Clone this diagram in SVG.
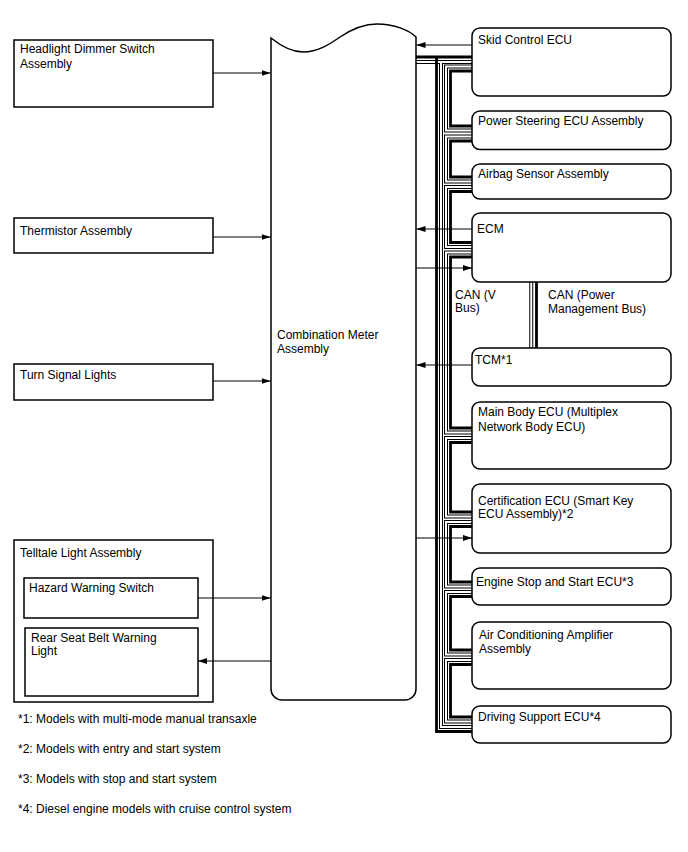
<svg xmlns="http://www.w3.org/2000/svg" width="688" height="852" viewBox="0 0 688 852">
<style>
.box{fill:#fff;stroke:#000;stroke-width:1.5}
.frame{fill:none;stroke:#000;stroke-width:1.5}
.t{font-family:"Liberation Sans",Arial,sans-serif;font-size:12px;fill:#000}
.arr{stroke:#000;stroke-width:1;fill:none;marker-end:url(#ah)}
.thick{stroke:#000;stroke-width:2.8;fill:none}
.hb{stroke:#000;stroke-width:4;fill:none}
.hw{stroke:#fff;stroke-width:2;fill:none}
</style>
<defs>
<marker id="ah" markerUnits="userSpaceOnUse" markerWidth="9" markerHeight="6" refX="9" refY="3" orient="auto">
<path d="M0,0 L9,3 L0,6 z" fill="#000"/>
</marker>
</defs>
<rect width="688" height="852" fill="#fff"/>

<g id="telltale">
<rect class="frame" x="14" y="540" width="199" height="162"/>
<text class="t" x="20" y="557">Telltale Light Assembly</text>
</g>

<g id="connectors">
<g class="hb">
<path d="M416,62 H472 M441,62 V727 H472"/>
<path d="M472,66.5 H446 V130.5 H472"/>
<path d="M472,136.5 H446 V181.5 H472"/>
<path d="M472,187 H446 V247 H472"/>
<path d="M472,252.5 H446 V432.5 H472"/>
<path d="M472,438 H446 V516.5 H472"/>
<path d="M472,522 H446 V586.5 H472"/>
<path d="M472,592 H446 V654.5 H472"/>
<path d="M472,660 H446 V721.5 H472"/>
<path d="M531.25,282 V348"/>
</g>
<g class="hw">
<path d="M416,62 H472 M441,62 V727 H472"/>
<path d="M472,66.5 H446 V130.5 H472"/>
<path d="M472,136.5 H446 V181.5 H472"/>
<path d="M472,187 H446 V247 H472"/>
<path d="M472,252.5 H446 V432.5 H472"/>
<path d="M472,438 H446 V516.5 H472"/>
<path d="M472,522 H446 V586.5 H472"/>
<path d="M472,592 H446 V654.5 H472"/>
<path d="M472,660 H446 V721.5 H472"/>
<path d="M531.25,282 V348"/>
</g>
<g class="thick">
<path d="M416,57 H472 M436.5,57 V731.5 H472"/>
<path d="M472,71 H450.5 V126 H472"/>
<path d="M472,141 H450.5 V177 H472"/>
<path d="M472,191.5 H450.5 V242.5 H472"/>
<path d="M472,257 H450.5 V428 H472"/>
<path d="M472,442.5 H450.5 V512 H472"/>
<path d="M472,526.5 H450.5 V582 H472"/>
<path d="M472,596.5 H450.5 V650 H472"/>
<path d="M472,664.5 H450.5 V717 H472"/>
<path d="M536.5,282 V348"/>
</g>
<line class="arr" x1="213" y1="73" x2="270.5" y2="73"/>
<line class="arr" x1="213" y1="237" x2="270.5" y2="237"/>
<line class="arr" x1="213" y1="381" x2="270.5" y2="381"/>
<line class="arr" x1="198" y1="598" x2="270.5" y2="598"/>
<line class="arr" x1="271" y1="661" x2="198" y2="661"/>
<line class="arr" x1="472" y1="45" x2="416.5" y2="45"/>
<line class="arr" x1="472" y1="229" x2="416.5" y2="229"/>
<line class="arr" x1="416" y1="268" x2="472" y2="268"/>
<line class="arr" x1="472" y1="365" x2="416.5" y2="365"/>
<line class="arr" x1="416" y1="538" x2="472" y2="538"/>
</g>

<g id="meter">
<path class="box" d="M271,38 C281,46 292,52 303,52 C318,52 330,44 340,37 C352,29 364,24 377,24 C394,24 409,30 416,37 V689 A11,11 0 0 1 405,700 H282 A11,11 0 0 1 271,689 Z"/>
<text class="t" x="277" y="339">Combination Meter</text>
<text class="t" x="277" y="353">Assembly</text>
</g>

<g id="headlight">
<rect class="box" x="14" y="40" width="199" height="67"/>
<text class="t" x="20" y="52.5">Headlight Dimmer Switch</text>
<text class="t" x="20" y="67.5">Assembly</text>
</g>
<g id="thermistor">
<rect class="box" x="14" y="218" width="199" height="35"/>
<text class="t" x="20" y="235">Thermistor Assembly</text>
</g>
<g id="turn-signal">
<rect class="box" x="14" y="364" width="199" height="36"/>
<text class="t" x="20" y="379">Turn Signal Lights</text>
</g>
<g id="hazard">
<rect class="box" x="24" y="578" width="174" height="40"/>
<text class="t" x="29" y="592">Hazard Warning Switch</text>
</g>
<g id="rear-seat">
<rect class="box" x="25" y="628" width="173" height="68"/>
<text class="t" x="31" y="641.5">Rear Seat Belt Warning</text>
<text class="t" x="31" y="655">Light</text>
</g>

<g id="skid">
<rect class="box" x="472" y="28" width="199" height="68" rx="8"/>
<text class="t" x="478" y="44">Skid Control ECU</text>
</g>
<g id="ps">
<rect class="box" x="472" y="111" width="199" height="38.5" rx="8"/>
<text class="t" x="478" y="125">Power Steering ECU Assembly</text>
</g>
<g id="airbag">
<rect class="box" x="472" y="164" width="199" height="35" rx="8"/>
<text class="t" x="478" y="178">Airbag Sensor Assembly</text>
</g>
<g id="ecm">
<rect class="box" x="472" y="213" width="199" height="69" rx="8"/>
<text class="t" x="477" y="233">ECM</text>
</g>
<g id="tcm">
<rect class="box" x="472" y="348" width="199" height="38" rx="8"/>
<text class="t" x="475" y="364">TCM*1</text>
</g>
<g id="main-body">
<rect class="box" x="472" y="402" width="199" height="67" rx="8"/>
<text class="t" x="478" y="416">Main Body ECU (Multiplex</text>
<text class="t" x="478" y="430.5">Network Body ECU)</text>
</g>
<g id="cert">
<rect class="box" x="472" y="484" width="199" height="69" rx="8"/>
<text class="t" x="478" y="504.5">Certification ECU (Smart Key</text>
<text class="t" x="478" y="518">ECU Assembly)*2</text>
</g>
<g id="engine">
<rect class="box" x="472" y="568" width="199" height="37" rx="8"/>
<text class="t" x="476" y="586">Engine Stop and Start ECU*3</text>
</g>
<g id="ac">
<rect class="box" x="472" y="622" width="199" height="67" rx="8"/>
<text class="t" x="479" y="639">Air Conditioning Amplifier</text>
<text class="t" x="479" y="653">Assembly</text>
</g>
<g id="ds">
<rect class="box" x="472" y="706" width="199" height="37" rx="8"/>
<text class="t" x="478" y="721">Driving Support ECU*4</text>
</g>

<g id="labels">
<text class="t" x="455" y="299">CAN (V</text>
<text class="t" x="455" y="312">Bus)</text>
<text class="t" x="548" y="299">CAN (Power</text>
<text class="t" x="548" y="313">Management Bus)</text>
</g>

<g id="notes">
<text class="t" x="18" y="723">*1: Models with multi-mode manual transaxle</text>
<text class="t" x="18" y="753">*2: Models with entry and start system</text>
<text class="t" x="18" y="783">*3: Models with stop and start system</text>
<text class="t" x="18" y="813">*4: Diesel engine models with cruise control system</text>
</g>
</svg>
